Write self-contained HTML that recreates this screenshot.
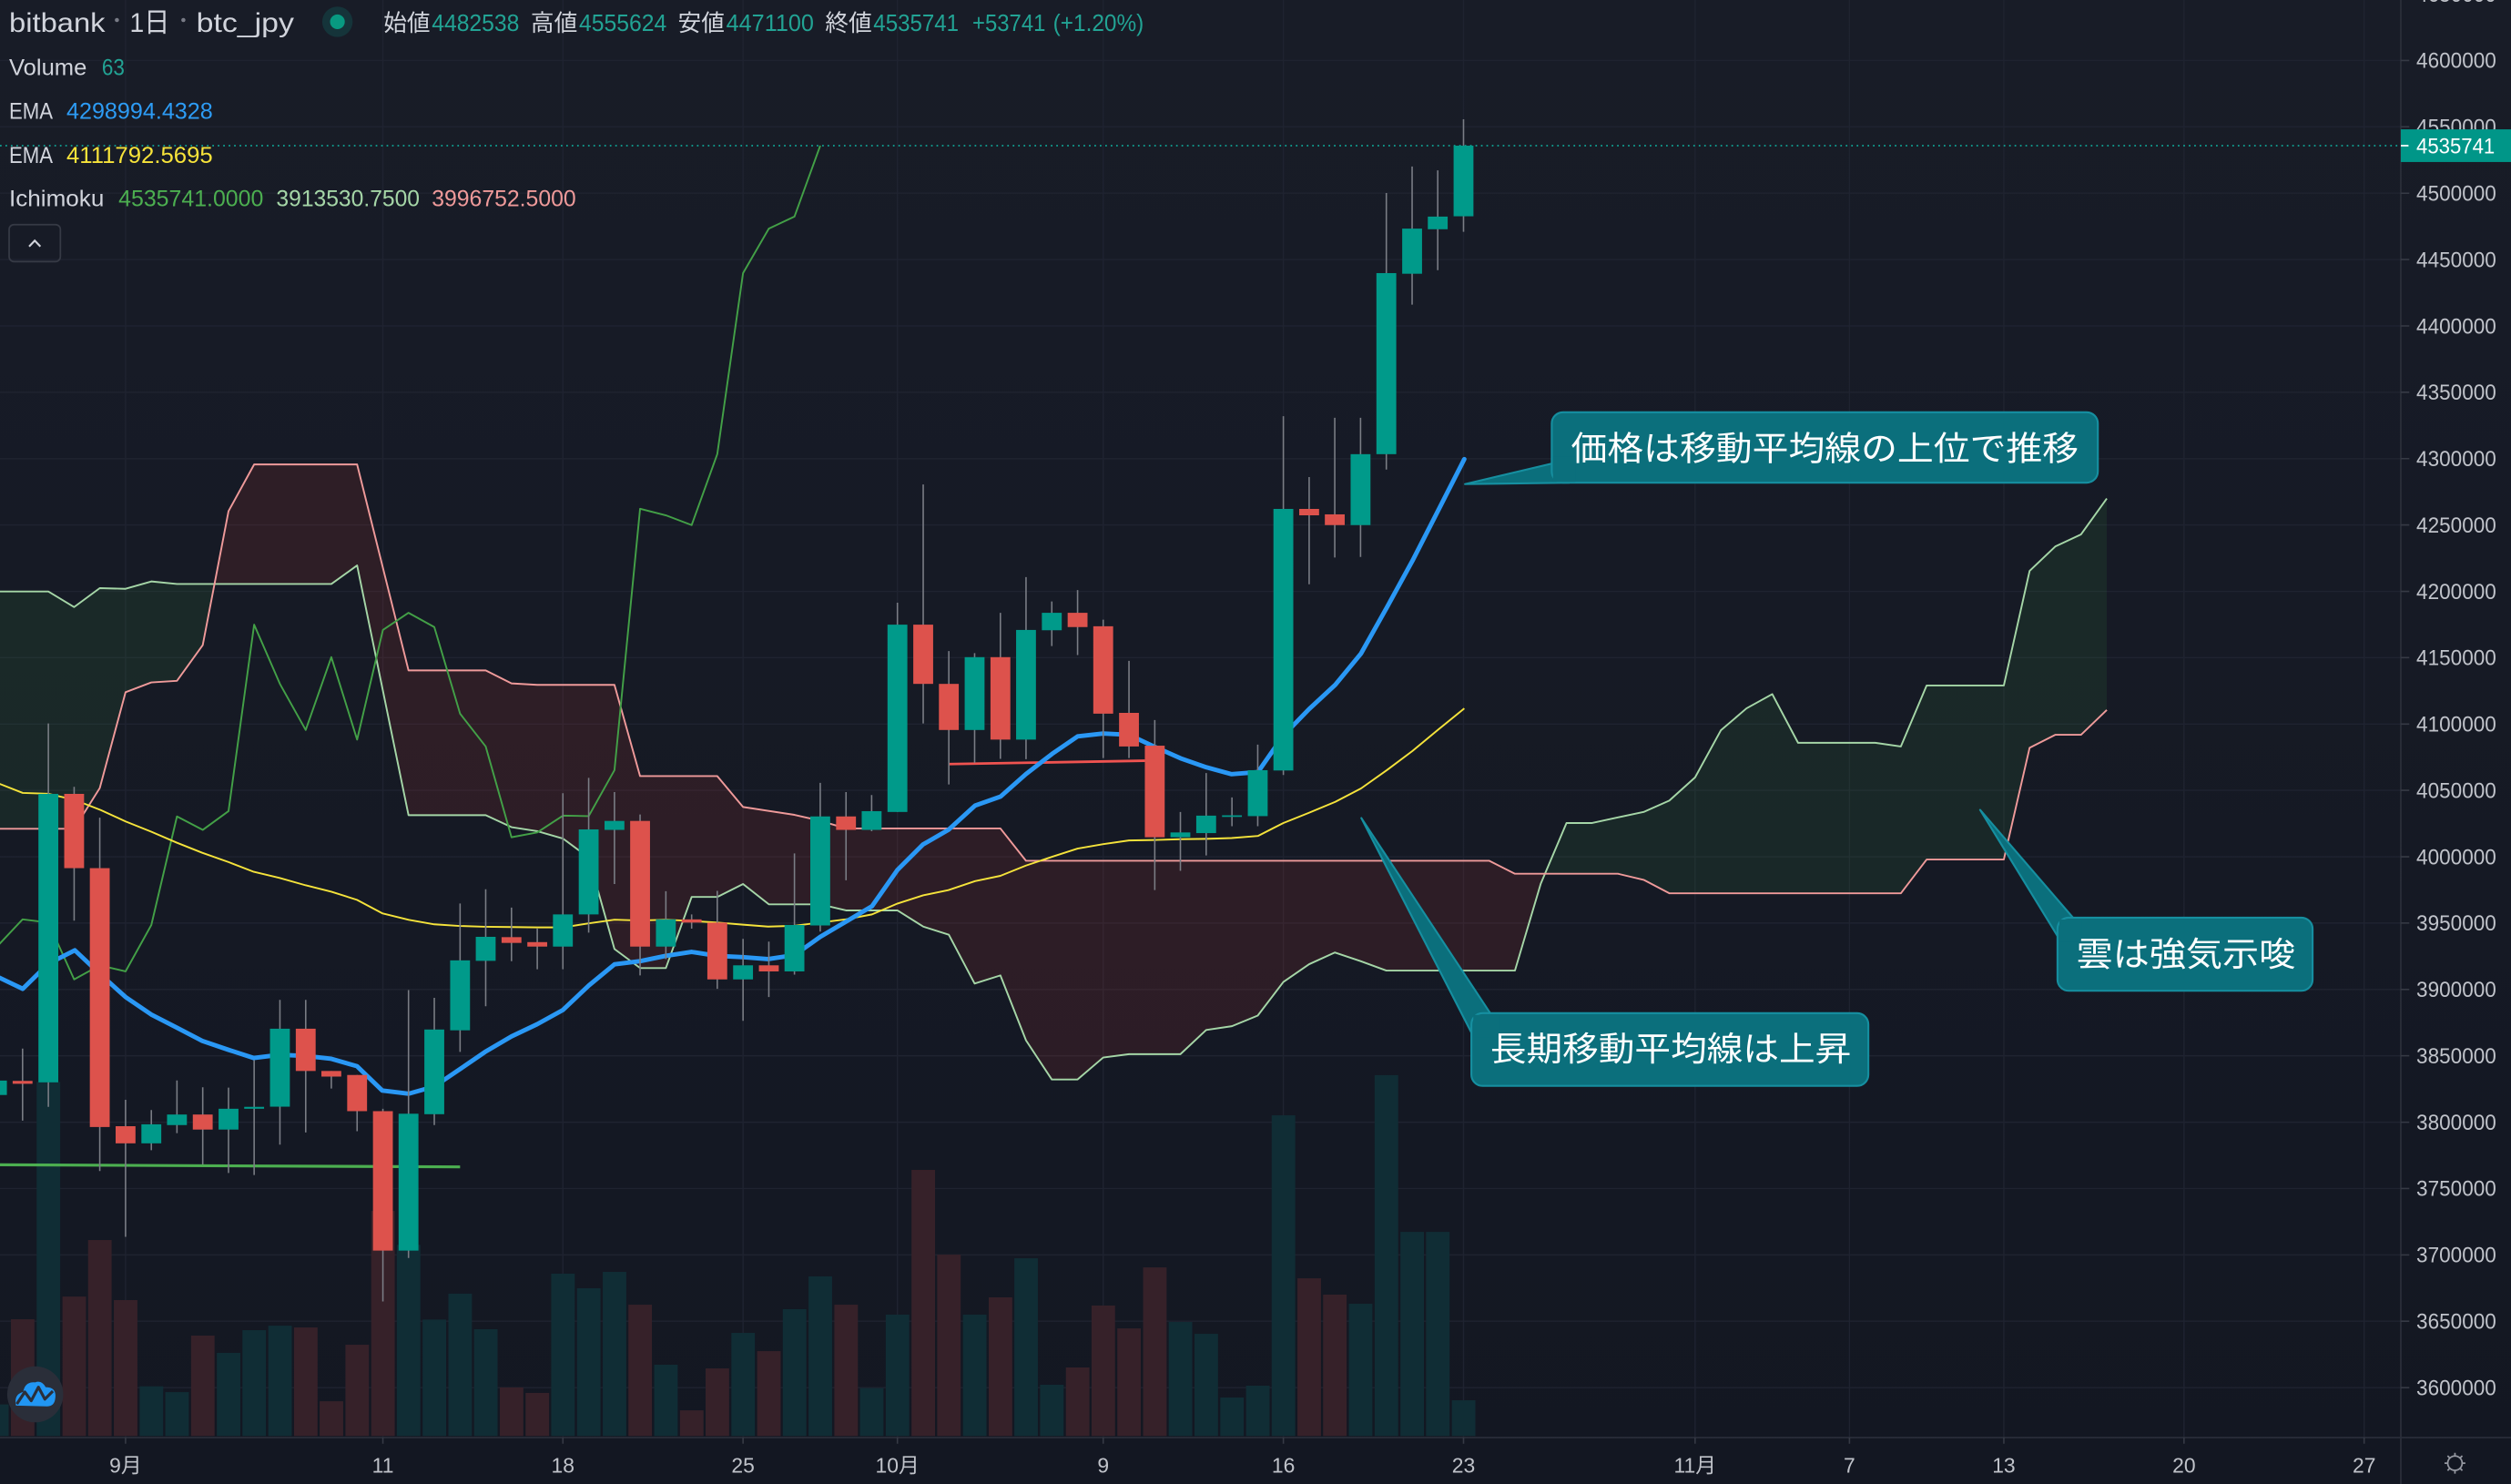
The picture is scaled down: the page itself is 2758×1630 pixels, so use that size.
<!DOCTYPE html>
<html>
<head>
<meta charset="utf-8">
<style>
html,body{margin:0;padding:0;background:#151924;overflow:hidden;}
svg{display:block;}
text{font-family:"Liberation Sans","Noto Sans CJK JP",sans-serif;}
.cjk{font-family:"Noto Sans CJK JP","Liberation Sans",sans-serif;}
</style>
</head>
<body>
<svg xmlns="http://www.w3.org/2000/svg" width="2758" height="1630" viewBox="0 0 1568 927" preserveAspectRatio="none">
<defs>
<linearGradient id="bg" x1="0" y1="0" x2="0" y2="1">
<stop offset="0" stop-color="#181c27"/>
<stop offset="1" stop-color="#131722"/>
</linearGradient>
<clipPath id="plot"><rect x="0" y="0" width="1499.2" height="898"/></clipPath>
<clipPath id="belowA"><polygon points="-1.9,369.5 14.1,369.5 30.2,369.5 46.3,379.2 62.3,367.4 78.4,367.8 94.5,363.2 110.5,364.8 206.9,364.8 223.0,353.2 255.1,509.2 303.3,509.2 319.4,516.7 335.5,519.2 351.5,523.8 367.6,535.7 383.7,592.8 399.7,604.7 415.8,604.7 431.9,560.3 447.9,560.3 464.0,552.2 480.1,564.9 512.2,564.9 528.3,568.7 560.4,568.7 576.5,578.8 592.5,583.9 608.6,614.4 624.7,609.3 640.7,649.9 656.8,674.3 672.9,674.3 688.9,660.6 705.0,658.5 737.1,658.5 753.2,643.4 769.3,641.0 785.4,634.4 801.4,613.4 817.5,602.3 833.5,595.0 849.6,600.4 865.7,606.3 946.0,606.3 962.1,552.1 978.2,514.1 994.2,514.1 1010.3,510.6 1026.4,507.2 1042.4,500.1 1058.5,485.6 1074.6,456.2 1090.6,442.5 1106.7,433.6 1122.8,464.0 1171.0,464.0 1187.0,466.3 1203.1,428.2 1251.3,428.2 1267.4,356.6 1283.4,341.4 1299.5,333.8 1315.6,311.4 1315.6,1000 -1.9,1000"/></clipPath>
<clipPath id="belowB"><polygon points="-1.9,517.7 46.3,517.7 62.3,492.3 78.4,432.4 94.5,426.3 110.5,425.3 126.6,403.0 142.7,319.3 158.7,290.1 223.0,290.1 255.1,418.8 303.3,418.8 319.4,426.9 335.5,427.8 383.7,427.8 399.7,484.8 447.9,484.8 464.0,504.1 496.1,509.0 512.2,512.7 528.3,517.5 624.7,517.5 640.7,537.7 930.0,537.7 946.0,545.8 1010.3,545.8 1026.4,549.6 1042.4,558.0 1187.0,558.0 1203.1,536.9 1251.3,536.9 1267.4,467.1 1283.4,459.0 1299.5,459.0 1315.6,443.5 1315.6,1000 -1.9,1000"/></clipPath>
</defs>

<rect x="0" y="0" width="1568" height="927" fill="url(#bg)"/>

<!-- grid -->
<g stroke="#1f2330" stroke-width="0.8">
<path d="M0 37.8H1499M0 79.2H1499M0 120.7H1499M0 162.1H1499M0 203.6H1499M0 245H1499M0 286.5H1499M0 327.9H1499M0 369.4H1499M0 410.8H1499M0 452.3H1499M0 493.7H1499M0 535.2H1499M0 576.6H1499M0 618.1H1499M0 659.5H1499M0 701H1499M0 742.4H1499M0 783.9H1499M0 825.3H1499M0 866.8H1499"/>
<path d="M78.4 0V898M239.1 0V898M351.5 0V898M464 0V898M560.4 0V898M688.9 0V898M801.4 0V898M913.9 0V898M1058.5 0V898M1154.9 0V898M1251.3 0V898M1363.8 0V898M1476.3 0V898"/>
</g>

<g clip-path="url(#plot)">
<!-- volume -->
<g fill="#102d35">
<rect x="-9.3" y="877.3" width="14.7" height="19.7"/>
<rect x="22.9" y="675.8" width="14.7" height="221.2"/>
<rect x="87.2" y="866" width="14.7" height="31"/>
<rect x="103.2" y="869.6" width="14.7" height="27.4"/>
<rect x="135.4" y="845.1" width="14.7" height="51.9"/>
<rect x="151.4" y="830.9" width="14.7" height="66.1"/>
<rect x="167.5" y="828.1" width="14.7" height="68.9"/>
<rect x="247.8" y="777.6" width="14.7" height="119.4"/>
<rect x="263.9" y="824.3" width="14.7" height="72.7"/>
<rect x="280" y="808.1" width="14.7" height="88.9"/>
<rect x="296" y="830.3" width="14.7" height="66.7"/>
<rect x="344.2" y="795.6" width="14.7" height="101.4"/>
<rect x="360.3" y="804.7" width="14.7" height="92.3"/>
<rect x="376.4" y="794.5" width="14.7" height="102.5"/>
<rect x="408.5" y="852.5" width="14.7" height="44.5"/>
<rect x="456.7" y="832.6" width="14.7" height="64.4"/>
<rect x="488.8" y="817.8" width="14.7" height="79.2"/>
<rect x="504.9" y="797.3" width="14.7" height="99.7"/>
<rect x="537" y="867.1" width="14.7" height="29.9"/>
<rect x="553.1" y="821.2" width="14.7" height="75.8"/>
<rect x="601.3" y="821.2" width="14.7" height="75.8"/>
<rect x="633.4" y="786" width="14.7" height="111"/>
<rect x="649.5" y="865" width="14.7" height="32"/>
<rect x="729.8" y="825.8" width="14.7" height="71.2"/>
<rect x="745.9" y="833.2" width="14.7" height="63.8"/>
<rect x="762" y="873" width="14.7" height="24"/>
<rect x="778.1" y="865.6" width="14.7" height="31.4"/>
<rect x="794.1" y="696.7" width="14.7" height="200.3"/>
<rect x="842.3" y="814.4" width="14.7" height="82.6"/>
<rect x="858.4" y="671.6" width="14.7" height="225.4"/>
<rect x="874.5" y="769.5" width="14.7" height="127.5"/>
<rect x="890.5" y="769.5" width="14.7" height="127.5"/>
<rect x="906.6" y="874.7" width="14.7" height="22.3"/>
</g>
<g fill="#362129">
<rect x="6.8" y="824.1" width="14.7" height="72.9"/>
<rect x="39" y="809.9" width="14.7" height="87.1"/>
<rect x="55" y="774.6" width="14.7" height="122.4"/>
<rect x="71.1" y="812.1" width="14.7" height="84.9"/>
<rect x="119.3" y="834.3" width="14.7" height="62.7"/>
<rect x="183.6" y="829.2" width="14.7" height="67.8"/>
<rect x="199.6" y="875.3" width="14.7" height="21.7"/>
<rect x="215.7" y="840" width="14.7" height="57"/>
<rect x="231.8" y="756.4" width="14.7" height="140.6"/>
<rect x="312.1" y="866.7" width="14.7" height="30.3"/>
<rect x="328.2" y="870.1" width="14.7" height="26.9"/>
<rect x="392.4" y="815" width="14.7" height="82"/>
<rect x="424.6" y="881" width="14.7" height="16"/>
<rect x="440.6" y="854.8" width="14.7" height="42.2"/>
<rect x="472.8" y="844" width="14.7" height="53"/>
<rect x="521" y="815" width="14.7" height="82"/>
<rect x="569.2" y="730.8" width="14.7" height="166.2"/>
<rect x="585.2" y="783.7" width="14.7" height="113.3"/>
<rect x="617.4" y="810.4" width="14.7" height="86.6"/>
<rect x="665.6" y="854.2" width="14.7" height="42.8"/>
<rect x="681.6" y="815.5" width="14.7" height="81.5"/>
<rect x="697.7" y="829.8" width="14.7" height="67.2"/>
<rect x="713.8" y="791.7" width="14.7" height="105.3"/>
<rect x="810.2" y="798.5" width="14.7" height="98.5"/>
<rect x="826.2" y="808.7" width="14.7" height="88.3"/>
</g>

<!-- cloud fills -->
<polygon clip-path="url(#belowA)" fill="rgba(67,160,71,0.11)" points="-1.9,517.7 46.3,517.7 62.3,492.3 78.4,432.4 94.5,426.3 110.5,425.3 126.6,403.0 142.7,319.3 158.7,290.1 223.0,290.1 255.1,418.8 303.3,418.8 319.4,426.9 335.5,427.8 383.7,427.8 399.7,484.8 447.9,484.8 464.0,504.1 496.1,509.0 512.2,512.7 528.3,517.5 624.7,517.5 640.7,537.7 930.0,537.7 946.0,545.8 1010.3,545.8 1026.4,549.6 1042.4,558.0 1187.0,558.0 1203.1,536.9 1251.3,536.9 1267.4,467.1 1283.4,459.0 1299.5,459.0 1315.6,443.5 1315.6,-10 -1.9,-10"/>
<polygon clip-path="url(#belowB)" fill="rgba(244,67,54,0.11)" points="-1.9,369.5 14.1,369.5 30.2,369.5 46.3,379.2 62.3,367.4 78.4,367.8 94.5,363.2 110.5,364.8 206.9,364.8 223.0,353.2 255.1,509.2 303.3,509.2 319.4,516.7 335.5,519.2 351.5,523.8 367.6,535.7 383.7,592.8 399.7,604.7 415.8,604.7 431.9,560.3 447.9,560.3 464.0,552.2 480.1,564.9 512.2,564.9 528.3,568.7 560.4,568.7 576.5,578.8 592.5,583.9 608.6,614.4 624.7,609.3 640.7,649.9 656.8,674.3 672.9,674.3 688.9,660.6 705.0,658.5 737.1,658.5 753.2,643.4 769.3,641.0 785.4,634.4 801.4,613.4 817.5,602.3 833.5,595.0 849.6,600.4 865.7,606.3 946.0,606.3 962.1,552.1 978.2,514.1 994.2,514.1 1010.3,510.6 1026.4,507.2 1042.4,500.1 1058.5,485.6 1074.6,456.2 1090.6,442.5 1106.7,433.6 1122.8,464.0 1171.0,464.0 1187.0,466.3 1203.1,428.2 1251.3,428.2 1267.4,356.6 1283.4,341.4 1299.5,333.8 1315.6,311.4 1315.6,-10 -1.9,-10"/>

<!-- cloud lines -->
<polyline fill="none" stroke="#a5d6a7" stroke-width="1.1" stroke-linejoin="round" points="-1.9,369.5 14.1,369.5 30.2,369.5 46.3,379.2 62.3,367.4 78.4,367.8 94.5,363.2 110.5,364.8 206.9,364.8 223.0,353.2 255.1,509.2 303.3,509.2 319.4,516.7 335.5,519.2 351.5,523.8 367.6,535.7 383.7,592.8 399.7,604.7 415.8,604.7 431.9,560.3 447.9,560.3 464.0,552.2 480.1,564.9 512.2,564.9 528.3,568.7 560.4,568.7 576.5,578.8 592.5,583.9 608.6,614.4 624.7,609.3 640.7,649.9 656.8,674.3 672.9,674.3 688.9,660.6 705.0,658.5 737.1,658.5 753.2,643.4 769.3,641.0 785.4,634.4 801.4,613.4 817.5,602.3 833.5,595.0 849.6,600.4 865.7,606.3 946.0,606.3 962.1,552.1 978.2,514.1 994.2,514.1 1010.3,510.6 1026.4,507.2 1042.4,500.1 1058.5,485.6 1074.6,456.2 1090.6,442.5 1106.7,433.6 1122.8,464.0 1171.0,464.0 1187.0,466.3 1203.1,428.2 1251.3,428.2 1267.4,356.6 1283.4,341.4 1299.5,333.8 1315.6,311.4"/>
<polyline fill="none" stroke="#ef9a9a" stroke-width="1.1" stroke-linejoin="round" points="-1.9,517.7 46.3,517.7 62.3,492.3 78.4,432.4 94.5,426.3 110.5,425.3 126.6,403.0 142.7,319.3 158.7,290.1 223.0,290.1 255.1,418.8 303.3,418.8 319.4,426.9 335.5,427.8 383.7,427.8 399.7,484.8 447.9,484.8 464.0,504.1 496.1,509.0 512.2,512.7 528.3,517.5 624.7,517.5 640.7,537.7 930.0,537.7 946.0,545.8 1010.3,545.8 1026.4,549.6 1042.4,558.0 1187.0,558.0 1203.1,536.9 1251.3,536.9 1267.4,467.1 1283.4,459.0 1299.5,459.0 1315.6,443.5"/>

<!-- lagging span -->
<polyline fill="none" stroke="#43a047" stroke-width="1.1" stroke-linejoin="round" points="-1.9,591.3 14.1,574.3 30.2,576.3 46.3,611.8 62.3,603.0 78.4,606.8 94.5,577.8 110.5,510.0 126.6,518.4 142.7,506.7 158.7,390.2 174.8,427.2 190.9,456.0 206.9,410.5 223.0,462.0 239.1,393.5 255.1,382.8 271.2,391.7 287.3,445.8 303.3,466.3 319.4,523.0 335.5,520.0 351.5,509.5 367.6,509.8 383.7,481.1 399.7,317.8 415.8,321.9 431.9,328.0 447.9,283.7 464.0,170.6 480.1,142.8 496.1,135.3 512.2,91.0"/>

<!-- drawn lines -->
<line x1="0" y1="727.6" x2="287.3" y2="728.9" stroke="#4caf50" stroke-width="1.8"/>
<line x1="592.6" y1="477.3" x2="714.9" y2="475.2" stroke="#ef5350" stroke-width="1.6"/>

<!-- price line -->
<line x1="0" y1="91" x2="1499" y2="91" stroke="#10a394" stroke-width="1" stroke-dasharray="1 2.4"/>

<!-- EMAs -->
<polyline fill="none" stroke="#f5e33b" stroke-width="1.1" stroke-linejoin="round" points="-1.9,489 14.2,495.3 30,495.8 46.7,499.7 62.9,506 78.4,513.1 94.4,519.5 110.2,526.3 126.3,532.7 142.7,538.5 158.5,544.6 174.6,548.4 190.8,553 206.9,557 222.9,562.1 238.7,570.5 255.2,574.6 271.2,577.4 287,578.4 302.9,578.9 319.4,579.1 335.5,579.3 351.5,579.3 367.7,576.8 383.7,574.5 399.8,575 415.6,574.5 431.9,575.3 447.9,576.3 463.9,577.6 479.6,578.8 496.2,578.3 512.2,576.3 528.1,574.3 544.5,571.2 560.5,564.4 576.4,559.3 592.2,556 608.9,550.4 624.7,547.1 640.6,540.7 657,535.2 672.9,530.1 688.9,527.3 705,525 721.2,524.7 737.2,524.2 753.3,524 769.1,523.5 785.5,522.2 801.4,514.1 817.4,507.7 833.8,500.9 849.9,492.5 866,481.1 882,469.1 898.2,455.7 914.4,442.5"/>
<polyline fill="none" stroke="#2a98f5" stroke-width="2.8" stroke-linejoin="round" stroke-linecap="round" points="-1.9,610 14.2,617.7 30.2,602 46.7,593.6 62.9,608.8 78.4,622.8 94.4,633.7 110.2,641.8 126.3,650.2 142.7,655.8 158.5,660.9 174.6,658.9 190.8,659.6 206.9,661.4 222.9,666 238.7,681.2 255.2,683.2 271.2,678.7 287,668 302.9,657.1 319.4,647.4 335.4,639.8 351.5,630.9 367.7,615.6 383.7,602.4 399.8,600.4 415.6,597.1 431.8,594.6 447.9,597.1 463.9,597.9 479.6,599.1 496.2,596.6 512.2,585.2 528.1,575.8 544.5,566.1 560.5,543.3 576.4,527.5 592.2,518.4 608.9,503.2 624.8,497.6 640.6,483.6 657,470.9 672.9,460 688.9,458.2 705,459 721.2,466.6 737.2,473.7 753.3,479.3 769.1,483.6 785.5,482.3 801.4,459.5 817.4,443 833.8,427.8 849.9,408.2 866,379.5 882,350.3 898.2,318.6 914.4,286.8"/>

<!-- wicks -->
<path fill="none" stroke="#7a7d85" stroke-width="0.9" d="M14.1 655V700M30.2 451.9V691.4M46.3 491.5V575.1M62.3 510.8V731.5M78.4 687V772.6M94.5 693.4V718.5M110.5 674.9V707.8M126.6 679.2V727.4M142.7 679.4V732.7M158.7 662.2V734M174.8 624.6V715M190.9 624.6V707.4M206.9 669V680M223 671.5V706.6M239.1 692.6V813M255.1 618.5V785.8M271.2 623.3V702.8M287.3 564.4V657.1M303.3 555.5V628.6M319.4 566.9V600.4M335.5 580.1V605.5M351.5 495.5V605.5M367.6 485.9V582.6M383.7 494.8V552.2M399.7 508.8V609.3M415.8 556.7V599.1M431.9 571.2V580.1M447.9 556.5V617.7M464 586.5V637.7M480.1 588.2V622.8M496.1 533.1V608.8M512.2 489V581.9M528.3 494.8V549.9M544.3 496.6V519.2M560.4 376.5V507.2M576.5 302.6V451.9M592.5 406.7V490M608.6 408V476.5M624.7 382.8V474M640.7 360.5V474.2M656.8 375.7V403.6M672.9 368.6V409.2M688.9 387.1V473.5M705 412.8V473.5M721.1 449.8V556M737.1 507.2V544M753.2 482.9V534.4M769.3 498.1V516.1M785.4 465.1V516.1M801.4 260V484.1M817.5 298V365M833.5 261V348.3M849.6 261V347.9M865.7 120.6V293.3M881.8 104V190.3M897.8 106.4V168.8M913.9 74.5V144.8"/>

<!-- green bodies -->
<g fill="#009a8a">
<rect x="-8.1" y="675" width="12.4" height="9"/>
<rect x="24" y="495.9" width="12.4" height="180.2"/>
<rect x="88.3" y="702.3" width="12.4" height="11.9"/>
<rect x="104.3" y="696.2" width="12.4" height="6.6"/>
<rect x="136.5" y="692.6" width="12.4" height="13"/>
<rect x="152.5" y="691.4" width="12.4" height="1.2"/>
<rect x="168.6" y="642.6" width="12.4" height="48.7"/>
<rect x="248.9" y="695.7" width="12.4" height="85.5"/>
<rect x="265" y="643.1" width="12.4" height="52.9"/>
<rect x="281.1" y="599.9" width="12.4" height="43.7"/>
<rect x="297.1" y="585.2" width="12.4" height="15"/>
<rect x="345.3" y="571.2" width="12.4" height="20.1"/>
<rect x="361.4" y="518.1" width="12.4" height="53.1"/>
<rect x="377.5" y="512.8" width="12.4" height="5.6"/>
<rect x="409.6" y="574.3" width="12.4" height="17"/>
<rect x="457.8" y="603" width="12.4" height="8.8"/>
<rect x="489.9" y="577.8" width="12.4" height="29"/>
<rect x="506" y="510" width="12.4" height="68.1"/>
<rect x="538.1" y="506.7" width="12.4" height="11.7"/>
<rect x="554.2" y="390.2" width="12.4" height="117"/>
<rect x="602.4" y="410.5" width="12.4" height="45.5"/>
<rect x="634.5" y="393.5" width="12.4" height="68.5"/>
<rect x="650.6" y="382.8" width="12.4" height="10.9"/>
<rect x="730.9" y="520" width="12.4" height="3"/>
<rect x="747" y="509.5" width="12.4" height="10.9"/>
<rect x="763.1" y="509.3" width="12.4" height="1"/>
<rect x="779.2" y="481.1" width="12.4" height="28.7"/>
<rect x="795.2" y="317.9" width="12.4" height="163.4"/>
<rect x="843.4" y="283.7" width="12.4" height="44.3"/>
<rect x="859.5" y="170.6" width="12.4" height="113.1"/>
<rect x="875.6" y="142.8" width="12.4" height="28.2"/>
<rect x="891.6" y="135.3" width="12.4" height="7.9"/>
<rect x="907.7" y="91" width="12.4" height="44.1"/>
</g>
<!-- red bodies -->
<g fill="#dd524c">
<rect x="7.9" y="675.2" width="12.4" height="1.8"/>
<rect x="40.1" y="495.9" width="12.4" height="46.4"/>
<rect x="56.1" y="542.3" width="12.4" height="161.7"/>
<rect x="72.2" y="703.5" width="12.4" height="10.7"/>
<rect x="120.4" y="696.2" width="12.4" height="9.4"/>
<rect x="184.7" y="642.6" width="12.4" height="26.4"/>
<rect x="200.7" y="669" width="12.4" height="3.5"/>
<rect x="216.8" y="671.5" width="12.4" height="22.6"/>
<rect x="232.9" y="694.1" width="12.4" height="87.1"/>
<rect x="313.2" y="585.4" width="12.4" height="3.6"/>
<rect x="329.3" y="588.5" width="12.4" height="2.8"/>
<rect x="393.5" y="512.8" width="12.4" height="78.5"/>
<rect x="425.7" y="574.3" width="12.4" height="2"/>
<rect x="441.7" y="576.3" width="12.4" height="35.5"/>
<rect x="473.9" y="603" width="12.4" height="3.8"/>
<rect x="522.1" y="510" width="12.4" height="8.4"/>
<rect x="570.3" y="390.2" width="12.4" height="37"/>
<rect x="586.3" y="427.2" width="12.4" height="28.8"/>
<rect x="618.5" y="410.5" width="12.4" height="51.5"/>
<rect x="666.7" y="382.8" width="12.4" height="8.9"/>
<rect x="682.7" y="391.2" width="12.4" height="54.6"/>
<rect x="698.8" y="445.3" width="12.4" height="21"/>
<rect x="714.9" y="465.8" width="12.4" height="57.2"/>
<rect x="811.3" y="317.9" width="12.4" height="4"/>
<rect x="827.3" y="321.3" width="12.4" height="6.7"/>
</g>
</g>

<!-- callouts -->
<g fill="#0b6f7c" stroke="#168fa0" stroke-width="1.2" stroke-linejoin="round">
<polygon points="914.8,302.4 980,287 980,301.5"/>
<rect x="969" y="257.5" width="341" height="44" rx="7"/>
<polygon points="850.1,511 931,633.5 919.3,646"/>
<rect x="918.8" y="632.9" width="247.9" height="45.4" rx="7"/>
<polygon points="1236.5,505.9 1295,573.8 1285.3,585.5"/>
<rect x="1284.8" y="573.2" width="159.3" height="45.7" rx="7"/>
</g>
<g fill="#0b6f7c">
<rect x="969.8" y="285" width="14" height="16"/>
<rect x="920" y="634" width="16" height="14"/>
<rect x="1286" y="574.4" width="14" height="14"/>
</g>
<g class="cjk" fill="#ffffff" font-size="21">
<text x="981" y="287.5" textLength="317" lengthAdjust="spacingAndGlyphs">価格は移動平均線の上位で推移</text>
<text x="930.6" y="662.5" textLength="225.4" lengthAdjust="spacingAndGlyphs">長期移動平均線は上昇</text>
<text x="1296.6" y="603.3" textLength="136.8" lengthAdjust="spacingAndGlyphs">雲は強気示唆</text>
</g>

<!-- axes -->
<line x1="1499.2" y1="0" x2="1499.2" y2="927" stroke="#2a2e39" stroke-width="1"/>
<line x1="0" y1="898" x2="1568" y2="898" stroke="#2a2e39" stroke-width="1"/>
<path stroke="#363a45" stroke-width="0.9" d="M1499 37.8H1504.5M1499 79.2H1504.5M1499 120.7H1504.5M1499 162.1H1504.5M1499 203.6H1504.5M1499 245H1504.5M1499 286.5H1504.5M1499 327.9H1504.5M1499 369.4H1504.5M1499 410.8H1504.5M1499 452.3H1504.5M1499 493.7H1504.5M1499 535.2H1504.5M1499 576.6H1504.5M1499 618.1H1504.5M1499 659.5H1504.5M1499 701H1504.5M1499 742.4H1504.5M1499 783.9H1504.5M1499 825.3H1504.5M1499 866.8H1504.5"/>
<path stroke="#363a45" stroke-width="0.9" d="M78.4 898V901.8M239.1 898V901.8M351.5 898V901.8M464 898V901.8M560.4 898V901.8M688.9 898V901.8M801.4 898V901.8M913.9 898V901.8M1058.5 898V901.8M1154.9 898V901.8M1251.3 898V901.8M1363.8 898V901.8M1476.3 898V901.8"/>

<g fill="#c0c3ca" font-size="13.5">
<text x="1508.9" y="1" textLength="49.9" lengthAdjust="spacingAndGlyphs">4650000</text>
<text x="1508.9" y="42.5" textLength="49.9" lengthAdjust="spacingAndGlyphs">4600000</text>
<text x="1508.9" y="83.9" textLength="49.9" lengthAdjust="spacingAndGlyphs">4550000</text>
<text x="1508.9" y="125.4" textLength="49.9" lengthAdjust="spacingAndGlyphs">4500000</text>
<text x="1508.9" y="166.8" textLength="49.9" lengthAdjust="spacingAndGlyphs">4450000</text>
<text x="1508.9" y="208.3" textLength="49.9" lengthAdjust="spacingAndGlyphs">4400000</text>
<text x="1508.9" y="249.7" textLength="49.9" lengthAdjust="spacingAndGlyphs">4350000</text>
<text x="1508.9" y="291.2" textLength="49.9" lengthAdjust="spacingAndGlyphs">4300000</text>
<text x="1508.9" y="332.6" textLength="49.9" lengthAdjust="spacingAndGlyphs">4250000</text>
<text x="1508.9" y="374.1" textLength="49.9" lengthAdjust="spacingAndGlyphs">4200000</text>
<text x="1508.9" y="415.5" textLength="49.9" lengthAdjust="spacingAndGlyphs">4150000</text>
<text x="1508.9" y="457" textLength="49.9" lengthAdjust="spacingAndGlyphs">4100000</text>
<text x="1508.9" y="498.4" textLength="49.9" lengthAdjust="spacingAndGlyphs">4050000</text>
<text x="1508.9" y="539.9" textLength="49.9" lengthAdjust="spacingAndGlyphs">4000000</text>
<text x="1508.9" y="581.3" textLength="49.9" lengthAdjust="spacingAndGlyphs">3950000</text>
<text x="1508.9" y="622.8" textLength="49.9" lengthAdjust="spacingAndGlyphs">3900000</text>
<text x="1508.9" y="664.2" textLength="49.9" lengthAdjust="spacingAndGlyphs">3850000</text>
<text x="1508.9" y="705.7" textLength="49.9" lengthAdjust="spacingAndGlyphs">3800000</text>
<text x="1508.9" y="747.1" textLength="49.9" lengthAdjust="spacingAndGlyphs">3750000</text>
<text x="1508.9" y="788.6" textLength="49.9" lengthAdjust="spacingAndGlyphs">3700000</text>
<text x="1508.9" y="830" textLength="49.9" lengthAdjust="spacingAndGlyphs">3650000</text>
<text x="1508.9" y="871.5" textLength="49.9" lengthAdjust="spacingAndGlyphs">3600000</text>
</g>

<!-- current price label -->
<rect x="1499.2" y="80.8" width="68.8" height="20.4" fill="#009688"/>
<line x1="1499.2" y1="91" x2="1504" y2="91" stroke="#ffffff" stroke-width="1"/>
<text x="1508.9" y="95.7" font-size="13.5" fill="#ffffff" textLength="49" lengthAdjust="spacingAndGlyphs">4535741</text>

<!-- time labels -->
<g fill="#c0c3ca" font-size="13" text-anchor="middle">
<text x="78.4" y="920">9月</text>
<text x="239.1" y="920">11</text>
<text x="351.5" y="920">18</text>
<text x="464" y="920">25</text>
<text x="560.4" y="920">10月</text>
<text x="688.9" y="920">9</text>
<text x="801.4" y="920">16</text>
<text x="913.9" y="920">23</text>
<text x="1058.5" y="920">11月</text>
<text x="1154.9" y="920">7</text>
<text x="1251.3" y="920">13</text>
<text x="1363.8" y="920">20</text>
<text x="1476.3" y="920">27</text>
</g>

<!-- gear -->
<g stroke="#9598a1" stroke-width="1" fill="none">
<circle cx="1533" cy="914" r="4.5"/>
<path d="M1533 907.5V909.5M1533 918.5V920.5M1526.5 914H1528.5M1537.5 914H1539.5M1528.4 909.4L1529.8 910.8M1536.2 917.2L1537.6 918.6M1528.4 918.6L1529.8 917.2M1536.2 910.8L1537.6 909.4"/>
</g>

<!-- logo -->
<circle cx="22" cy="871" r="17.5" fill="#2a2e39"/>
<path d="M10,878 Q8.5,871 14.5,869.5 Q15.5,863 22,863.5 Q26,862 28.5,866.5 Q35.5,866.5 34.5,873.5 Q34,878.5 29.5,878.5 Z" fill="#2196f3"/>
<polyline points="10.5,877 15.5,869.5 19.5,875 24,866.5 28,874 33,869" fill="none" stroke="#2a2e39" stroke-width="1.8" stroke-linejoin="round"/>

<!-- legend -->
<g fill="#d1d4dc" font-size="17">
<text x="5.7" y="19.9" textLength="60" lengthAdjust="spacingAndGlyphs">bitbank</text>
<text x="81" y="19.9" textLength="25" lengthAdjust="spacingAndGlyphs">1日</text>
<text x="122.6" y="19.9" textLength="61" lengthAdjust="spacingAndGlyphs">btc_jpy</text>
</g>
<circle cx="73" cy="12.5" r="1.3" fill="#787b86"/>
<circle cx="114.5" cy="12.5" r="1.3" fill="#787b86"/>
<circle cx="210.7" cy="13.6" r="9.5" fill="#15343a"/>
<circle cx="210.7" cy="13.6" r="4.6" fill="#089981"/>

<g font-size="14.5">
<text x="239.5" y="19.2" fill="#d1d4dc" textLength="29.2" lengthAdjust="spacingAndGlyphs">始値</text>
<text x="269.6" y="19.2" fill="#22a394" textLength="54.7" lengthAdjust="spacingAndGlyphs">4482538</text>
<text x="331.4" y="19.2" fill="#d1d4dc" textLength="29.2" lengthAdjust="spacingAndGlyphs">高値</text>
<text x="361.6" y="19.2" fill="#22a394" textLength="54.7" lengthAdjust="spacingAndGlyphs">4555624</text>
<text x="423.3" y="19.2" fill="#d1d4dc" textLength="29.2" lengthAdjust="spacingAndGlyphs">安値</text>
<text x="453.5" y="19.2" fill="#22a394" textLength="54.7" lengthAdjust="spacingAndGlyphs">4471100</text>
<text x="515.2" y="19.2" fill="#d1d4dc" textLength="29.3" lengthAdjust="spacingAndGlyphs">終値</text>
<text x="545.4" y="19.2" fill="#22a394" textLength="53.3" lengthAdjust="spacingAndGlyphs">4535741</text>
<text x="607.2" y="19.2" fill="#22a394" textLength="45.7" lengthAdjust="spacingAndGlyphs">+53741</text>
<text x="657.6" y="19.2" fill="#22a394" textLength="56.6" lengthAdjust="spacingAndGlyphs">(+1.20%)</text>
</g>

<g font-size="14">
<text x="5.7" y="47" fill="#d1d4dc" textLength="48.5" lengthAdjust="spacingAndGlyphs">Volume</text>
<text x="63.6" y="47" fill="#22a394" textLength="14.2" lengthAdjust="spacingAndGlyphs">63</text>
<text x="5.7" y="74.3" fill="#d1d4dc" textLength="27.3" lengthAdjust="spacingAndGlyphs">EMA</text>
<text x="41.5" y="74.3" fill="#2d9cf5" textLength="91.4" lengthAdjust="spacingAndGlyphs">4298994.4328</text>
<text x="5.7" y="101.8" fill="#d1d4dc" textLength="27.3" lengthAdjust="spacingAndGlyphs">EMA</text>
<text x="41.5" y="101.8" fill="#f7e33a" textLength="91.4" lengthAdjust="spacingAndGlyphs">4111792.5695</text>
<text x="5.7" y="128.9" fill="#d1d4dc" textLength="59.3" lengthAdjust="spacingAndGlyphs">Ichimoku</text>
<text x="74" y="128.9" fill="#4caf50" textLength="90.5" lengthAdjust="spacingAndGlyphs">4535741.0000</text>
<text x="172.5" y="128.9" fill="#a5d6a7" textLength="89.6" lengthAdjust="spacingAndGlyphs">3913530.7500</text>
<text x="269.6" y="128.9" fill="#ef9a9a" textLength="90.1" lengthAdjust="spacingAndGlyphs">3996752.5000</text>
</g>

<rect x="5.7" y="140.3" width="32" height="23.1" rx="3" fill="none" stroke="#363a45" stroke-width="1"/>
<polyline points="18.2,154 21.7,150.3 25.2,154" fill="none" stroke="#d1d4dc" stroke-width="1.2"/>
</svg>
</body>
</html>
